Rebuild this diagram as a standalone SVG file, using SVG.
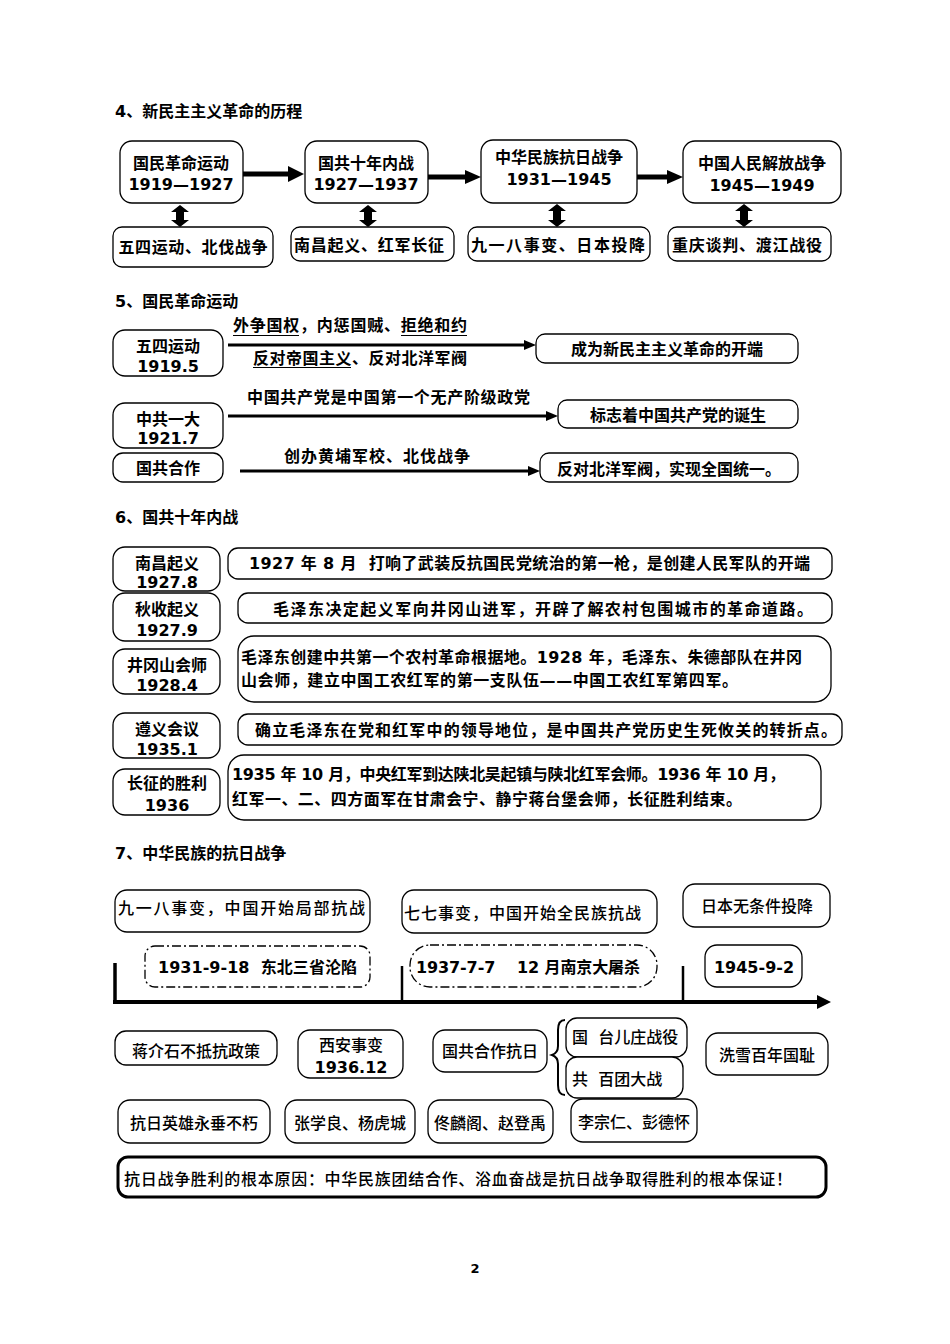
<svg xmlns="http://www.w3.org/2000/svg" width="950" height="1344" viewBox="0 0 950 1344">
<style>
.box{fill:#fff;stroke:#000;stroke-width:1.3}
.dd{fill:#fff;stroke:#000;stroke-width:1.3;stroke-dasharray:9 3 2 3}
.t{font-family:"DejaVu Sans","Noto Sans CJK SC",sans-serif;font-weight:bold;font-size:16px;fill:#000}
.m{font-weight:500}
.c{text-anchor:middle}
.h{font-size:16px}
.ln{stroke:#000;fill:none}
.ul{stroke:#000;stroke-width:1}
</style>
<rect width="950" height="1344" fill="#fff"/>

<!-- Section 4 -->
<text class="t h" x="115" y="117">4、新民主主义革命的历程</text>
<g id="n4-1"><rect class="box" x="120" y="141" width="123" height="62" rx="12"/><text class="t c" x="181" y="169">国民革命运动</text><text class="t c" x="181" y="190">1919—1927</text></g>
<g id="n4-2"><rect class="box" x="305" y="141" width="123" height="62" rx="12"/><text class="t c" x="366" y="169">国共十年内战</text><text class="t c" x="366" y="190">1927—1937</text></g>
<g id="n4-3"><rect class="box" x="481" y="140" width="156" height="63" rx="12"/><text class="t c" x="559" y="163">中华民族抗日战争</text><text class="t c" x="559" y="185">1931—1945</text></g>
<g id="n4-4"><rect class="box" x="683" y="141" width="158" height="62" rx="12"/><text class="t c" x="762" y="169">中国人民解放战争</text><text class="t c" x="762" y="191">1945—1949</text></g>
<g id="n4-5"><rect class="box" x="113" y="227" width="160" height="40" rx="9"/><text class="t c" x="193" y="253" textLength="149" lengthAdjust="spacing">五四运动、北伐战争</text></g>
<g id="n4-6"><rect class="box" x="291" y="227" width="163" height="34" rx="9"/><text class="t c" x="369" y="251" textLength="150" lengthAdjust="spacing">南昌起义、红军长征</text></g>
<g id="n4-7"><rect class="box" x="468" y="227" width="182" height="34" rx="9"/><text class="t c" x="558" y="251" textLength="174" lengthAdjust="spacing">九一八事变、日本投降</text></g>
<g id="n4-8"><rect class="box" x="668" y="227" width="163" height="34" rx="9"/><text class="t c" x="747" y="251" textLength="150" lengthAdjust="spacing">重庆谈判、渡江战役</text></g>

<!-- Section 5 -->
<text class="t h" x="115" y="307">5、国民革命运动</text>
<g id="n5-1"><rect class="box" x="113" y="330" width="110" height="46" rx="12"/><text class="t c" x="168" y="352">五四运动</text><text class="t c" x="168" y="372">1919.5</text></g>
<g id="n5-2"><rect class="box" x="113" y="403" width="110" height="45" rx="12"/><text class="t c" x="168" y="425">中共一大</text><text class="t c" x="168" y="444">1921.7</text></g>
<g id="n5-3"><rect class="box" x="113" y="453" width="110" height="29" rx="10"/><text class="t c" x="168" y="474">国共合作</text></g>
<g id="n5-4"><rect class="box" x="536" y="334" width="262" height="29" rx="9"/><text class="t c" x="667" y="355">成为新民主主义革命的开端</text></g>
<g id="n5-5"><rect class="box" x="558" y="400" width="240" height="28" rx="9"/><text class="t c" x="678" y="421">标志着中国共产党的诞生</text></g>
<g id="n5-6"><rect class="box" x="540" y="453" width="258" height="29" rx="9"/><text class="t c" x="669" y="475">反对北洋军阀，实现全国统一。</text></g>
<text class="t" x="233" y="331" textLength="234" lengthAdjust="spacing">外争国权，内惩国贼、拒绝和约</text>
<line class="ul" x1="233" y1="335.5" x2="299" y2="335.5"/>
<line class="ul" x1="401" y1="335.5" x2="467" y2="335.5"/>
<text class="t" x="253" y="364" textLength="214" lengthAdjust="spacing">反对帝国主义、反对北洋军阀</text>
<line class="ul" x1="253" y1="367.5" x2="351" y2="367.5"/>
<text class="t" x="247" y="403" textLength="283" lengthAdjust="spacing">中国共产党是中国第一个无产阶级政党</text>
<text class="t" x="284" y="462" textLength="186" lengthAdjust="spacing">创办黄埔军校、北伐战争</text>

<!-- Section 6 -->
<text class="t h" x="115" y="523">6、国共十年内战</text>
<g id="n6-1"><rect class="box" x="113" y="547" width="107" height="44" rx="12"/><text class="t c" x="167" y="569">南昌起义</text><text class="t c" x="167" y="588">1927.8</text></g>
<g id="n6-2"><rect class="box" x="113" y="593" width="107" height="48" rx="12"/><text class="t c" x="167" y="615">秋收起义</text><text class="t c" x="167" y="636">1927.9</text></g>
<g id="n6-3"><rect class="box" x="113" y="649" width="107" height="45" rx="12"/><text class="t c" x="167" y="671">井冈山会师</text><text class="t c" x="167" y="691">1928.4</text></g>
<g id="n6-4"><rect class="box" x="113" y="713" width="107" height="45" rx="12"/><text class="t c" x="167" y="735">遵义会议</text><text class="t c" x="167" y="755">1935.1</text></g>
<g id="n6-5"><rect class="box" x="113" y="769" width="107" height="46" rx="12"/><text class="t c" x="167" y="789">长征的胜利</text><text class="t c" x="167" y="811">1936</text></g>
<g id="n6-6"><rect class="box" x="228" y="548" width="604" height="31" rx="10"/><text class="t" x="249" y="569" xml:space="preserve" textLength="561" lengthAdjust="spacing">1927 年 8 月  打响了武装反抗国民党统治的第一枪，是创建人民军队的开端</text></g>
<g id="n6-7"><rect class="box" x="238" y="593" width="594" height="30" rx="10"/><text class="t" x="273" y="615" textLength="540" lengthAdjust="spacing">毛泽东决定起义军向井冈山进军，开辟了解农村包围城市的革命道路。</text></g>
<g id="n6-8"><rect class="box" x="238" y="636" width="593" height="66" rx="16"/><text class="t" x="241" y="663" textLength="561" lengthAdjust="spacing">毛泽东创建中共第一个农村革命根据地。1928 年，毛泽东、朱德部队在井冈</text><text class="t" x="241" y="686" textLength="497" lengthAdjust="spacing">山会师，建立中国工农红军的第一支队伍——中国工农红军第四军。</text></g>
<g id="n6-9"><rect class="box" x="238" y="714" width="604" height="31" rx="10"/><text class="t" x="255" y="736" textLength="582" lengthAdjust="spacing">确立毛泽东在党和红军中的领导地位，是中国共产党历史生死攸关的转折点。</text></g>
<g id="n6-10"><rect class="box" x="228" y="755" width="593" height="65" rx="16"/><text class="t" x="232" y="780" textLength="553" lengthAdjust="spacing">1935 年 10 月，中央红军到达陕北吴起镇与陕北红军会师。1936 年 10 月，</text><text class="t" x="232" y="805" textLength="510" lengthAdjust="spacing">红军一、二、四方面军在甘肃会宁、静宁蒋台堡会师，长征胜利结束。</text></g>

<!-- Section 7 -->
<text class="t h" x="115" y="859">7、中华民族的抗日战争</text>
<g id="n7-1"><rect class="box" x="115" y="890" width="255" height="42" rx="12"/><text class="t m" x="118" y="914" textLength="247" lengthAdjust="spacing">九一八事变，中国开始局部抗战</text></g>
<g id="n7-2"><rect class="box" x="402" y="890" width="255" height="43" rx="12"/><text class="t m" x="404" y="919" textLength="237" lengthAdjust="spacing">七七事变，中国开始全民族抗战</text></g>
<g id="n7-3"><rect class="box" x="683" y="884" width="147" height="43" rx="12"/><text class="t m c" x="757" y="912">日本无条件投降</text></g>
<g id="n7-4"><rect class="dd" x="145" y="946" width="225" height="41" rx="10"/><text class="t" x="158" y="973" xml:space="preserve" textLength="199" lengthAdjust="spacing">1931-9-18  东北三省沦陷</text></g>
<g id="n7-5"><rect class="dd" x="410" y="945" width="247" height="42" rx="20"/><text class="t" x="416" y="973" xml:space="preserve" textLength="224" lengthAdjust="spacing">1937-7-7    12 月南京大屠杀</text></g>
<g id="n7-6"><rect class="box" x="705" y="945" width="97" height="42" rx="12"/><text class="t c" x="754" y="973">1945-9-2</text></g>

<g id="n7-7"><rect class="box" x="115" y="1031" width="162" height="34" rx="11"/><text class="t m c" x="196" y="1057">蒋介石不抵抗政策</text></g>
<g id="n7-8"><rect class="box" x="298" y="1030" width="105" height="48" rx="12"/><text class="t m c" x="351" y="1051">西安事变</text><text class="t c" x="351" y="1073">1936.12</text></g>
<g id="n7-9"><rect class="box" x="433" y="1030" width="114" height="42" rx="12"/><text class="t m c" x="490" y="1057">国共合作抗日</text></g>
<g id="n7-10"><rect class="box" x="566" y="1018" width="121" height="39" rx="11"/><text class="t m" x="572" y="1043" xml:space="preserve">国  台儿庄战役</text></g>
<g id="n7-11"><rect class="box" x="566" y="1057" width="117" height="41" rx="11"/><text class="t m" x="572" y="1085" xml:space="preserve">共  百团大战</text></g>
<g id="n7-12"><rect class="box" x="706" y="1033" width="122" height="42" rx="12"/><text class="t m c" x="767" y="1061">洗雪百年国耻</text></g>
<g id="n7-13"><rect class="box" x="118" y="1100" width="152" height="43" rx="12"/><text class="t m c" x="194" y="1129">抗日英雄永垂不朽</text></g>
<g id="n7-14"><rect class="box" x="285" y="1100" width="130" height="43" rx="12"/><text class="t m c" x="350" y="1129">张学良、杨虎城</text></g>
<g id="n7-15"><rect class="box" x="428" y="1100" width="125" height="43" rx="12"/><text class="t m c" x="490" y="1129">佟麟阁、赵登禹</text></g>
<g id="n7-16"><rect class="box" x="571" y="1099" width="126" height="43" rx="12"/><text class="t m c" x="634" y="1128">李宗仁、彭德怀</text></g>
<g id="n7-17"><rect class="box" x="118" y="1157" width="708" height="40" rx="10" style="stroke-width:3"/><text class="t m" x="124" y="1185" textLength="668" lengthAdjust="spacing">抗日战争胜利的根本原因：中华民族团结合作、浴血奋战是抗日战争取得胜利的根本保证！</text></g>

<text class="t c" x="475" y="1273" style="font-size:13px">2</text>

<!-- Connectors -->
<g id="connectors">
  <line class="ln" x1="243" y1="174" x2="290" y2="174" stroke-width="5"/>
  <polygon points="288,166 304,174 288,182"/>
  <line class="ln" x1="428" y1="177" x2="467" y2="177" stroke-width="5"/>
  <polygon points="465,170 481,177 465,184"/>
  <line class="ln" x1="637" y1="177" x2="669" y2="177" stroke-width="5"/>
  <polygon points="667,170 683,177 667,184"/>
  <polygon points="180,205 189,212 184,212 184,220 189,220 180,227 171,220 176,220 176,212 171,212"/>
  <polygon points="368,205 377,212 372,212 372,220 377,220 368,227 359,220 364,220 364,212 359,212"/>
  <polygon points="557,204 566,211 561,211 561,220 566,220 557,227 548,220 553,220 553,211 548,211"/>
  <polygon points="744,204 753,211 748,211 748,220 753,220 744,227 735,220 740,220 740,211 735,211"/>
  <line class="ln" x1="228" y1="345" x2="526" y2="345" stroke-width="3"/>
  <polygon points="524,340 536,345 524,350"/>
  <line class="ln" x1="228" y1="416" x2="548" y2="416" stroke-width="3"/>
  <polygon points="546,411 558,416 546,421"/>
  <line class="ln" x1="240" y1="471" x2="530" y2="471" stroke-width="3"/>
  <polygon points="528,466 540,471 528,476"/>
  <line class="ln" x1="113" y1="1002" x2="820" y2="1002" stroke-width="4"/>
  <polygon points="817,995 831,1002 817,1009"/>
  <line class="ln" x1="115" y1="963" x2="115" y2="1004" stroke-width="3.5"/>
  <line class="ln" x1="402" y1="966" x2="402" y2="1002" stroke-width="2.5"/>
  <line class="ln" x1="683" y1="966" x2="683" y2="1002" stroke-width="2.5"/>
  <path class="ln" stroke-width="2" d="M565,1020 Q558,1020 558,1030 L558,1046 Q558,1053 552,1055 Q558,1057 558,1064 L558,1085 Q558,1095 565,1095"/>
</g>
</svg>
